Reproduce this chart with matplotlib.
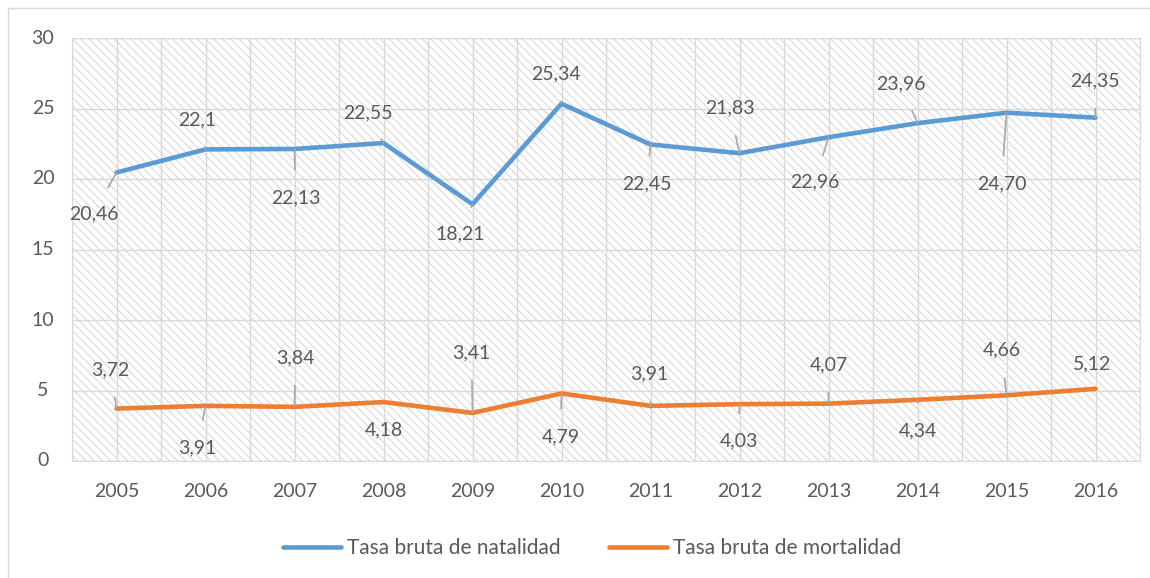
import matplotlib
matplotlib.use("Agg")
import numpy as np
from matplotlib import pyplot as plt
from matplotlib.patches import Rectangle
from matplotlib.transforms import ScaledTranslation

years = ['2005', '2006', '2007', '2008', '2009', '2010',
         '2011', '2012', '2013', '2014', '2015', '2016']
natalidad = [20.46, 22.1, 22.13, 22.55, 18.21, 25.34,
             22.45, 21.83, 22.96, 23.96, 24.70, 24.35]
natalidad_txt = ['20,46', '22,1', '22,13', '22,55', '18,21', '25,34',
                 '22,45', '21,83', '22,96', '23,96', '24,70', '24,35']
mortalidad = [3.72, 3.91, 3.84, 4.18, 3.41, 4.79,
              3.91, 4.03, 4.07, 4.34, 4.66, 5.12]
mortalidad_txt = ['3,72', '3,91', '3,84', '4,18', '3,41', '4,79',
                  '3,91', '4,03', '4,07', '4,34', '4,66', '5,12']

# label offsets (pixels, dx right, dy up) from each point
off_nat = [(-23, -41), (-8, 30), (1, -49), (-16, 30), (-12, -30), (-6, 30),
           (-4, -39), (-10, 45), (-14, -45), (-17, 39), (-5, -71), (-1, 37)]
off_mor = [(-6, 39), (-8, -42), (1, 49), (0, -28), (-1, 60), (-1, -43),
           (-1, 32), (-1, -37), (0, 39), (0, -31), (-5, 45), (-3, 25)]

plt.rcParams['font.family'] = ['Lato', 'DejaVu Sans']
plt.rcParams['hatch.linewidth'] = 0.7
txt = '#595959'
blue = '#5B9BD5'
orange = '#ED7D31'

fig = plt.figure(figsize=(11.5, 5.78), dpi=100)
# outer chart frame
fig.patches.append(Rectangle((8/1150, -0.1), 1.2, 1.1 - 8/578, transform=fig.transFigure,
                             fill=False, edgecolor='#d9d9d9', lw=1.0))
ax = fig.add_axes([72/1150, 1 - 461/578, (1140 - 72)/1150, (461 - 38)/578])

bg = Rectangle((0, 0), 1, 1, transform=ax.transAxes, facecolor='white',
               edgecolor='#d4d4d4', hatch='\\\\\\\\', lw=0, zorder=0)
ax.add_patch(bg)

x = np.arange(len(years))
ax.set_xlim(-0.5, len(years) - 0.5)
ax.set_ylim(0, 30)
yt = np.arange(0, 31, 5)
ax.set_yticks(yt)
ax.set_yticklabels([])
ax.set_xticks(x)
ax.set_xticklabels(years)
ax.set_xticks(np.arange(-0.5, len(years), 1), minor=True)
ax.grid(True, which='both', color='#d9d9d9', lw=1.0, zorder=1)
ax.tick_params(which='both', length=0, labelsize=14, colors=txt)
ax.tick_params(axis='x', pad=16)
# y labels centred like the original
ylab_tr = ax.get_yaxis_transform() + ScaledTranslation(-0.29, 0, fig.dpi_scale_trans)
for v in yt:
    ax.text(0, v, str(v), transform=ylab_tr, ha='center', va='center',
            fontsize=14, color=txt, clip_on=False)
for sp in ax.spines.values():
    sp.set_color('#d9d9d9')

l1, = ax.plot(x, natalidad, color=blue, lw=3.3, solid_capstyle='round',
              label='Tasa bruta de natalidad', zorder=3)
l2, = ax.plot(x, mortalidad, color=orange, lw=3.3, solid_capstyle='round',
              label='Tasa bruta de mortalidad', zorder=3)

def label_points(vals, texts, offs):
    for xi, v, t, (dx, dy) in zip(x, vals, texts, offs):
        dist = np.hypot(dx, dy)
        arrow = None
        if dist > 28:
            arrow = dict(arrowstyle='-', color='#a6a6a6', lw=1.2, shrinkA=12, shrinkB=0)
        ax.annotate(t, xy=(xi, v), xytext=(dx * 0.72, dy * 0.72), textcoords='offset points',
                    ha='center', va='center', fontsize=14, color=txt,
                    arrowprops=arrow, zorder=4)

label_points(natalidad, natalidad_txt, off_nat)
label_points(mortalidad, mortalidad_txt, off_mor)

fig.legend(handles=[l1, l2], loc='center', bbox_to_anchor=(0.515, 1 - 548/578),
           ncol=2, frameon=False, fontsize=15, labelcolor=txt,
           handlelength=2.8, handletextpad=0.3, columnspacing=2.3)

fig.savefig('out.png', dpi=100)
